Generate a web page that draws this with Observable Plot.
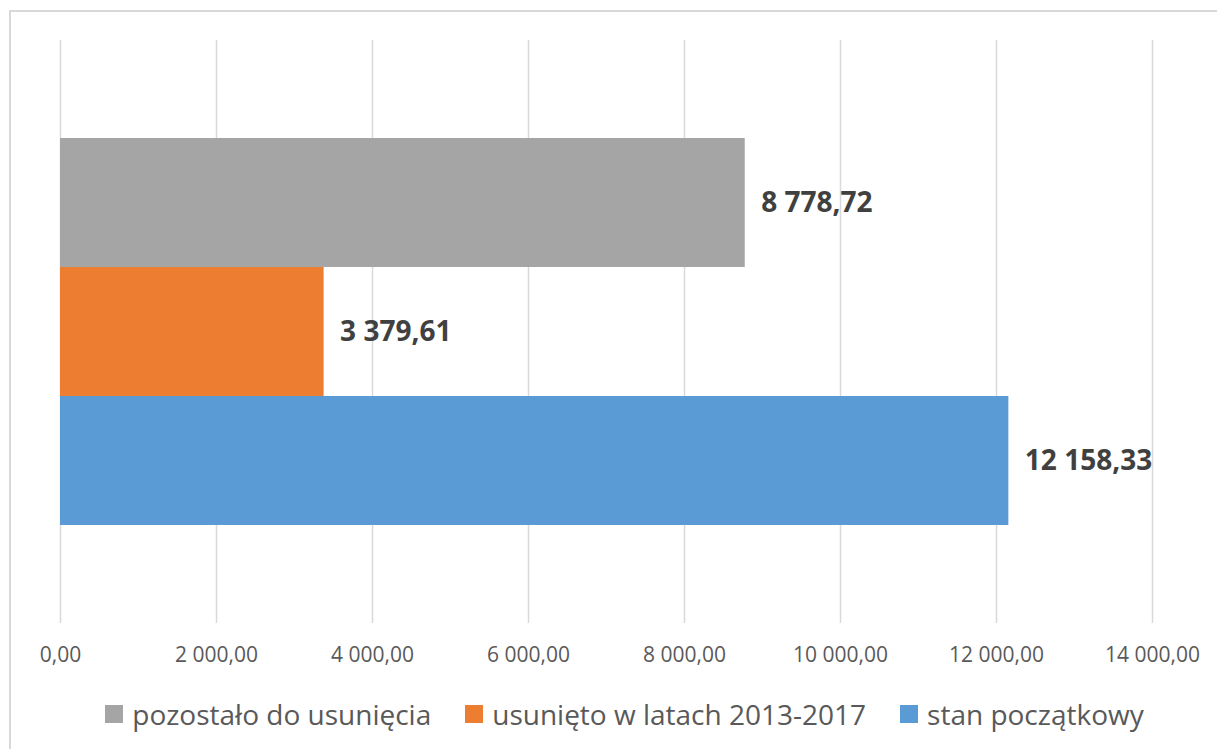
<!DOCTYPE html>
<html>
<head>
<meta charset="utf-8">
<script src="https://cdn.jsdelivr.net/npm/d3@7"></script>
<script src="https://cdn.jsdelivr.net/npm/@observablehq/plot@0.6"></script>
<style>
  html, body { margin: 0; padding: 0; background: #fff; overflow: hidden; width: 1217px; height: 749px; }
  #wrap { position: relative; width: 1217px; height: 749px; overflow: hidden; font-family: "Open Sans", sans-serif; }
  #frame { position: absolute; left: 9px; top: 10px; width: 1230px; height: 760px; border: 2px solid #d9d9d9; box-sizing: border-box; }
  #chart { position: absolute; left: 0; top: 0; }
  #legend { position: absolute; left: 0; top: 695px; width: 1249px; height: 38px; display: flex; justify-content: center; align-items: center; gap: 34px; font-size: 28px; color: #595959; }
  .item { display: flex; align-items: center; gap: 9px; white-space: nowrap; }
  .sw { width: 18px; height: 18px; display: inline-block; }
</style>
</head>
<body>
<div id="wrap">
  <div id="frame"></div>
  <div id="chart"></div>
  <div id="legend"></div>
</div>
<script>
// Data
const categories = ["pozostało do usunięcia", "usunięto w latach 2013-2017", "stan początkowy"];
const values = [8778.72, 3379.61, 12158.33];
const colors = ["#a5a5a5", "#ed7d31", "#5b9bd5"];
const tickValues = [0, 2000, 4000, 6000, 8000, 10000, 12000, 14000];

const pl = d3.formatLocale({decimal: ",", thousands: "\u00a0", grouping: [3], currency: ["", " zł"]});
const fmt = pl.format(",.2f");

const data = categories.map((c, i) => ({category: c, value: values[i]}));

const chart = Plot.plot({
  width: 1217,
  height: 680,
  marginLeft: 60,
  marginRight: 65,
  marginTop: 40,
  marginBottom: 57,
  style: {fontFamily: "Open Sans, sans-serif", color: "#595959", background: "transparent", overflow: "visible"},
  x: {domain: [0, 14000], label: null},
  y: {domain: categories, paddingInner: 0, paddingOuter: 0.75, axis: null, label: null},
  color: {domain: categories, range: colors},
  marks: [
    Plot.gridX(tickValues, {stroke: "#d9d9d9", strokeOpacity: 1, strokeWidth: 1.5}),
    Plot.barX(data, {x: "value", y: "category", fill: "category"}),
    Plot.axisX({ticks: tickValues, tickSize: 0, tickPadding: 24, tickFormat: fmt, fontSize: 21, fill: "#595959", label: null}),
    Plot.text(data, {x: "value", y: "category", text: d => fmt(d.value), dx: 16, textAnchor: "start", fontSize: 28, fontWeight: "bold", fill: "#404040"})
  ]
});
document.getElementById("chart").appendChild(chart);

const legend = document.getElementById("legend");
categories.forEach((c, i) => {
  const item = document.createElement("div");
  item.className = "item";
  const sw = document.createElement("span");
  sw.className = "sw";
  sw.style.background = colors[i];
  const t = document.createElement("span");
  t.textContent = c;
  item.appendChild(sw);
  item.appendChild(t);
  legend.appendChild(item);
});
</script>
</body>
</html>
